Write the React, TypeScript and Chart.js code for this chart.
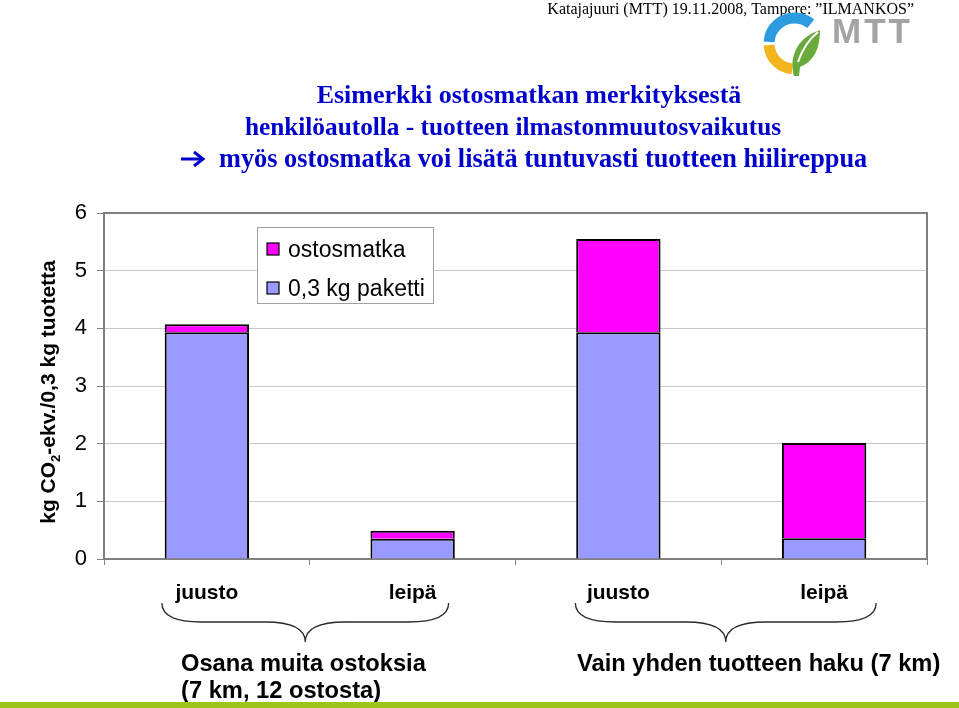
import { useEffect, useRef } from "react";
import { Chart, registerables } from "chart.js";

Chart.register(...registerables);

const categories = ["juusto", "leipä", "juusto", "leipä"];
const pakettiValues = [3.93, 0.35, 3.93, 0.36];
const ostosmatkaValues = [0.14, 0.14, 1.62, 1.65];
const yTickValues = [0, 1, 2, 3, 4, 5, 6];
const seriesLabels = ["0,3 kg paketti", "ostosmatka"];
const seriesColors = ["#9999ff", "#ff00ff"];
const groupLabelsA = ["Osana muita ostoksia", "(7 km, 12 ostosta)"];
const groupLabelsB = ["Vain yhden tuotteen haku (7 km)"];
const titleLines = [
  "Esimerkki ostosmatkan merkityksestä",
  "henkilöautolla - tuotteen ilmastonmuutosvaikutus",
  "myös ostosmatka voi lisätä tuntuvasti tuotteen hiilireppua",
];
const titleArrow = "➔";
const headerText = "Katajajuuri (MTT) 19.11.2008, Tampere: ”ILMANKOS”";
const yTitleParts = ["kg CO", "2", "-ekv./0,3 kg tuotetta"];

const SANS = '"Liberation Sans", Arial, sans-serif';
const SERIF = '"Liberation Serif", "Times New Roman", serif';

const decorPlugin = {
  id: "decor",
  beforeDraw(chart: any) {
    const ctx = chart.ctx;
    ctx.save();
    ctx.fillStyle = "#ffffff";
    ctx.fillRect(0, 0, chart.width, chart.height);
    ctx.restore();
  },
  afterDraw(chart: any) {
    const ctx = chart.ctx as CanvasRenderingContext2D;
    const area = chart.chartArea;
    const xs = chart.scales.x;
    ctx.save();

    // plot frame top/right
    ctx.strokeStyle = "#808080";
    ctx.lineWidth = 2;
    ctx.beginPath();
    ctx.moveTo(area.left, area.top);
    ctx.lineTo(area.right, area.top);
    ctx.lineTo(area.right, area.bottom);
    ctx.stroke();

    // legend
    const lx = 257, ly = 227, lw = 176, lh = 76;
    ctx.fillStyle = "#ffffff";
    ctx.fillRect(lx, ly, lw, lh);
    ctx.strokeStyle = "#a0a0a0";
    ctx.lineWidth = 1;
    ctx.strokeRect(lx + 0.5, ly + 0.5, lw, lh);
    const ds = chart.data.datasets.slice().reverse();
    ds.forEach((d: any, i: number) => {
      const sy = 243 + i * 39;
      ctx.fillStyle = d.backgroundColor;
      ctx.fillRect(267, sy, 12, 12);
      ctx.strokeStyle = "#000";
      ctx.lineWidth = 1.2;
      ctx.strokeRect(267, sy, 12, 12);
      ctx.fillStyle = "#000";
      ctx.font = `23px ${SANS}`;
      ctx.textBaseline = "alphabetic";
      ctx.textAlign = "left";
      ctx.fillText(d.label, 288, sy + 14);
    });

    // braces
    const drawBrace = (L: number, R: number) => {
      const M = (L + R) / 2;
      const top = 603, mid = 622, tip = 642;
      ctx.strokeStyle = "#2a2a2a";
      ctx.lineWidth = 1.3;
      ctx.beginPath();
      ctx.moveTo(L, top);
      ctx.bezierCurveTo(L, 616, L + 14, mid, L + 40, mid);
      ctx.lineTo(M - 40, mid);
      ctx.bezierCurveTo(M - 14, mid, M, 628, M, tip);
      ctx.bezierCurveTo(M, 628, M + 14, mid, M + 40, mid);
      ctx.lineTo(R - 40, mid);
      ctx.bezierCurveTo(R - 14, mid, R, 616, R, top);
      ctx.stroke();
    };
    drawBrace(xs.getPixelForValue(0) - 45, xs.getPixelForValue(1) + 36);
    drawBrace(xs.getPixelForValue(2) - 43, xs.getPixelForValue(3) + 52);

    // group labels
    ctx.fillStyle = "#000";
    ctx.font = `bold 23.7px ${SANS}`;
    ctx.textAlign = "left";
    ctx.textBaseline = "alphabetic";
    ctx.fillText(groupLabelsA[0], 181, 671);
    ctx.fillText(groupLabelsA[1], 181, 698);
    ctx.fillText(groupLabelsB[0], 577, 671);

    // y title with subscript
    ctx.save();
    ctx.translate(55, 392);
    ctx.rotate(-Math.PI / 2);
    const big = `bold 21px ${SANS}`;
    const small = `bold 13px ${SANS}`;
    ctx.font = big;
    const w0 = ctx.measureText(yTitleParts[0]).width;
    const w2 = ctx.measureText(yTitleParts[2]).width;
    ctx.font = small;
    const w1 = ctx.measureText(yTitleParts[1]).width;
    const total = w0 + w1 + w2;
    let x0 = -total / 2;
    ctx.font = big;
    ctx.fillText(yTitleParts[0], x0, 0);
    x0 += w0;
    ctx.font = small;
    ctx.fillText(yTitleParts[1], x0, 5);
    x0 += w1;
    ctx.font = big;
    ctx.fillText(yTitleParts[2], x0, 0);
    ctx.restore();

    // title
    ctx.fillStyle = "#0000cc";
    ctx.font = `bold 26px ${SERIF}`;
    ctx.textAlign = "center";
    ctx.fillText(titleLines[0], 529, 103);
    ctx.font = `bold 25.3px ${SERIF}`;
    ctx.fillText(titleLines[1], 513, 135);
    ctx.font = `bold 26.3px ${SERIF}`;
    ctx.textAlign = "left";
    ctx.fillText(titleLines[2], 219, 167);
    // arrow
    ctx.strokeStyle = "#0000cc";
    ctx.lineWidth = 3;
    ctx.lineCap = "butt";
    ctx.beginPath();
    ctx.moveTo(181, 159);
    ctx.lineTo(202, 159);
    ctx.stroke();
    ctx.beginPath();
    ctx.moveTo(194, 152);
    ctx.lineTo(203, 159);
    ctx.lineTo(194, 166);
    ctx.stroke();

    // header
    ctx.fillStyle = "#000";
    ctx.font = `16px ${SERIF}`;
    ctx.textAlign = "right";
    ctx.fillText(headerText, 914, 14);

    // logo
    const cx = 794.5, cy = 43.5, r = 25.5;
    ctx.lineWidth = 11;
    ctx.lineCap = "butt";
    ctx.strokeStyle = "#2d9be0";
    ctx.beginPath();
    ctx.arc(cx, cy, r, Math.PI * 1.02, Math.PI * 1.72);
    ctx.stroke();
    ctx.strokeStyle = "#f2b51e";
    ctx.beginPath();
    ctx.arc(cx, cy, r, Math.PI * 0.53, Math.PI * 0.98);
    ctx.stroke();
    // leaf
    ctx.fillStyle = "#6aaa3c";
    ctx.beginPath();
    ctx.moveTo(794, 76);
    ctx.bezierCurveTo(789, 58, 796, 38, 820, 30);
    ctx.bezierCurveTo(820, 50, 813, 62, 800, 67);
    ctx.lineTo(799, 76);
    ctx.closePath();
    ctx.fill();
    ctx.strokeStyle = "#ffffff";
    ctx.lineWidth = 2;
    ctx.beginPath();
    ctx.moveTo(798, 62);
    ctx.bezierCurveTo(802, 50, 808, 40, 818, 32);
    ctx.stroke();
    ctx.fillStyle = "#a3a3a3";
    ctx.font = `bold 35px ${SANS}`;
    ctx.textAlign = "left";
    (ctx as any).letterSpacing = "3px";
    ctx.fillText("MTT", 832, 43);
    (ctx as any).letterSpacing = "0px";

    // bottom green strip
    ctx.fillStyle = "#9cc418";
    ctx.fillRect(0, 702, chart.width, 6);

    ctx.restore();
  },
};

export default function App() {
  const ref = useRef<HTMLCanvasElement | null>(null);
  useEffect(() => {
    document.body.style.margin = "0";
    if (!ref.current) return;
    const chart = new Chart(ref.current, {
      type: "bar",
      data: {
        labels: categories,
        datasets: [
          {
            label: seriesLabels[0],
            data: pakettiValues,
            backgroundColor: seriesColors[0],
            borderColor: "#000000",
            borderWidth: 2,
          },
          {
            label: seriesLabels[1],
            data: ostosmatkaValues,
            backgroundColor: seriesColors[1],
            borderColor: "#000000",
            borderWidth: 2,
          },
        ],
      },
      options: {
        responsive: false,
        animation: false,
        layout: { padding: { left: 0, top: 213, right: 32, bottom: 0 } },
        plugins: {
          legend: { display: false },
          tooltip: { enabled: false },
          title: { display: false },
        },
        datasets: { bar: { categoryPercentage: 1, barPercentage: 0.41 } },
        scales: {
          x: {
            stacked: true,
            offset: true,
            afterFit: (s: any) => {
              s.height = 149;
            },
            grid: {
              display: true,
              offset: true,
              drawOnChartArea: false,
              drawTicks: true,
              tickLength: 6,
              tickColor: "#808080",
            },
            border: { color: "#808080", width: 2 },
            ticks: {
              color: "#000",
              padding: 16,
              font: { family: SANS, size: 21, weight: "bold" },
            },
          },
          y: {
            stacked: true,
            min: 0,
            max: 6,
            afterFit: (s: any) => {
              s.width = 104;
            },
            afterBuildTicks: (s: any) => {
              s.ticks = yTickValues.map((v) => ({ value: v }));
            },
            grid: {
              color: "#c8c8c8",
              lineWidth: 1,
              tickLength: 7,
              tickColor: "#808080",
            },
            border: { color: "#808080", width: 2 },
            ticks: {
              color: "#000",
              padding: 10,
              font: { family: SANS, size: 22 },
            },
          },
        },
      },
      plugins: [decorPlugin],
    });
    return () => chart.destroy();
  }, []);
  return (
    <div style={{ position: "absolute", left: 0, top: 0, width: 959, height: 708 }}>
      <canvas ref={ref} width={959} height={708} style={{ display: "block" }} />
    </div>
  );
}
